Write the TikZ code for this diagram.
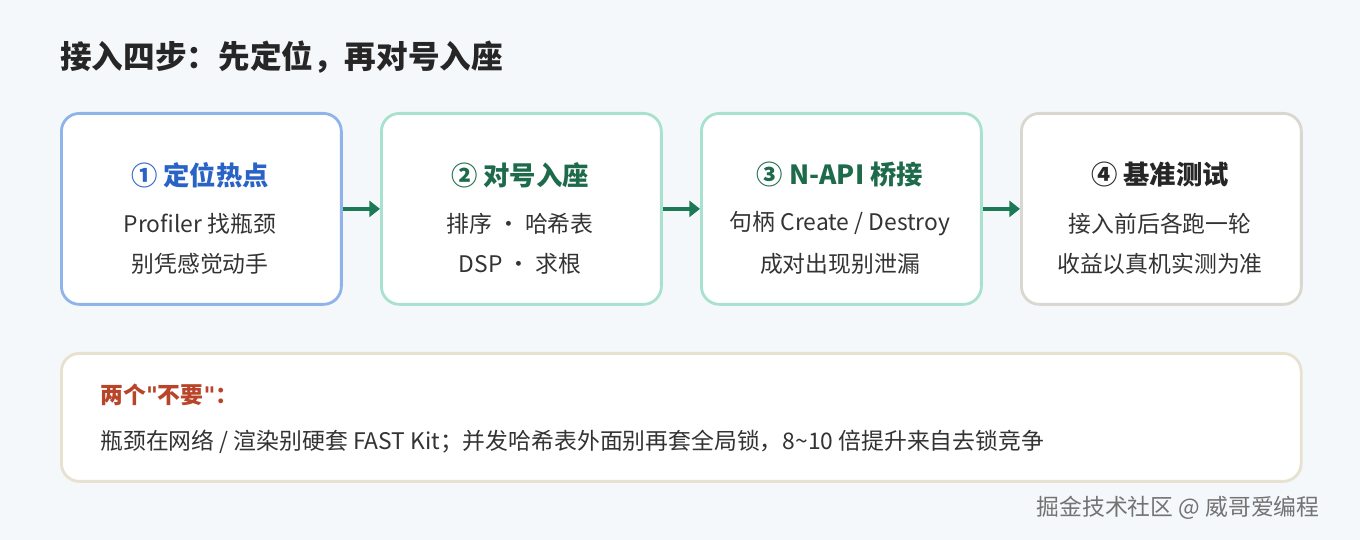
\documentclass[tikz,border=0pt]{standalone}
\usepackage{fontspec}
\setmainfont{Noto Sans CJK SC}
\newfontfamily\quotefont{DejaVu Sans}
\usepackage{xcolor}
\usetikzlibrary{arrows.meta,positioning}
\definecolor{bgc}{HTML}{F5F8FB}
\definecolor{blueln}{HTML}{8FB4EA}
\definecolor{bluetx}{HTML}{2A63C6}
\definecolor{greenln}{HTML}{A8E2CF}
\definecolor{greentx}{HTML}{1E6B4C}
\definecolor{grayln}{HTML}{DAD7D0}
\definecolor{beigeln}{HTML}{E7E1CF}
\definecolor{arrowc}{HTML}{1B7A55}
\definecolor{redtx}{HTML}{B8452A}
\definecolor{bodytx}{HTML}{333333}
\begin{document}
\begin{tikzpicture}[x=0.02cm, y=-0.02cm,
    stage/.style={draw, line width=1.6pt, fill=white, rounded corners=0.36cm,
                 minimum width=5.6cm, minimum height=3.82cm, anchor=north west},
    head/.style={font=\fontsize{15}{17}\selectfont\bfseries},
    body/.style={font=\fontsize{13}{15}\selectfont, text=bodytx},
    arrow/.style={-{Triangle[length=6pt,width=9pt]}, line width=2.2pt, arrowc}
]
\fill[bgc] (0,0) rectangle (1360,540);
\node[anchor=west, inner sep=0pt, font=\fontsize{18}{21}\selectfont\bfseries, text=black!85] (title) at (60,57) {接入四步：先定位，再对号入座};

% Steps
\node[stage, draw=blueln] (S1) at (60,112) {};
\node[stage, draw=greenln] (S2) at (380,112) {};
\node[stage, draw=greenln] (S3) at (700,112) {};
\node[stage, draw=grayln] (S4) at (1020,112) {};

\node[head, text=bluetx] (H1) at (200,175) {① 定位热点};
\node[body] (A1) at (200,224) {Profiler 找瓶颈};
\node[body] (B1) at (200,264) {别凭感觉动手};
\node[head, text=greentx] (H2) at (520,175) {② 对号入座};
\node[body] (A2) at (520,224) {排序 · 哈希表};
\node[body] (B2) at (520,264) {DSP · 求根};
\node[head, text=greentx] (H3) at (840,175) {③ N-API 桥接};
\node[body] (A3) at (840,224) {句柄 Create / Destroy};
\node[body] (B3) at (840,264) {成对出现别泄漏};
\node[head, text=black!85] (H4) at (1160,175) {④ 基准测试};
\node[body] (A4) at (1160,224) {接入前后各跑一轮};
\node[body] (B4) at (1160,264) {收益以真机实测为准};

% Arrows
\draw[arrow] (S1.east) -- (S2.west);
\draw[arrow] (S2.east) -- (S3.west);
\draw[arrow] (S3.east) -- (S4.west);

% Notes
\node[draw=beigeln, line width=1.6pt, fill=white, rounded corners=0.36cm,
      minimum width=24.8cm, minimum height=2.56cm, anchor=north west] (note) at (60,352) {};
\node[anchor=west, inner sep=0pt, text=redtx, font=\fontsize{13}{15}\selectfont\bfseries] (N1) at (100,395) {两个{\quotefont\bfseries "}不要{\quotefont\bfseries "}：};
\node[anchor=west, inner sep=0pt, body] (N2) at (100,442) {瓶颈在网络 / 渲染别硬套 FAST Kit；并发哈希表外面别再套全局锁，8\textasciitilde10 倍提升来自去锁竞争};

\node[anchor=east, inner sep=0pt, text=black!55, font=\fontsize{13}{15}\selectfont] (wm) at (1320,508) {掘金技术社区 @ 威哥爱编程};
\end{tikzpicture}
\end{document}
